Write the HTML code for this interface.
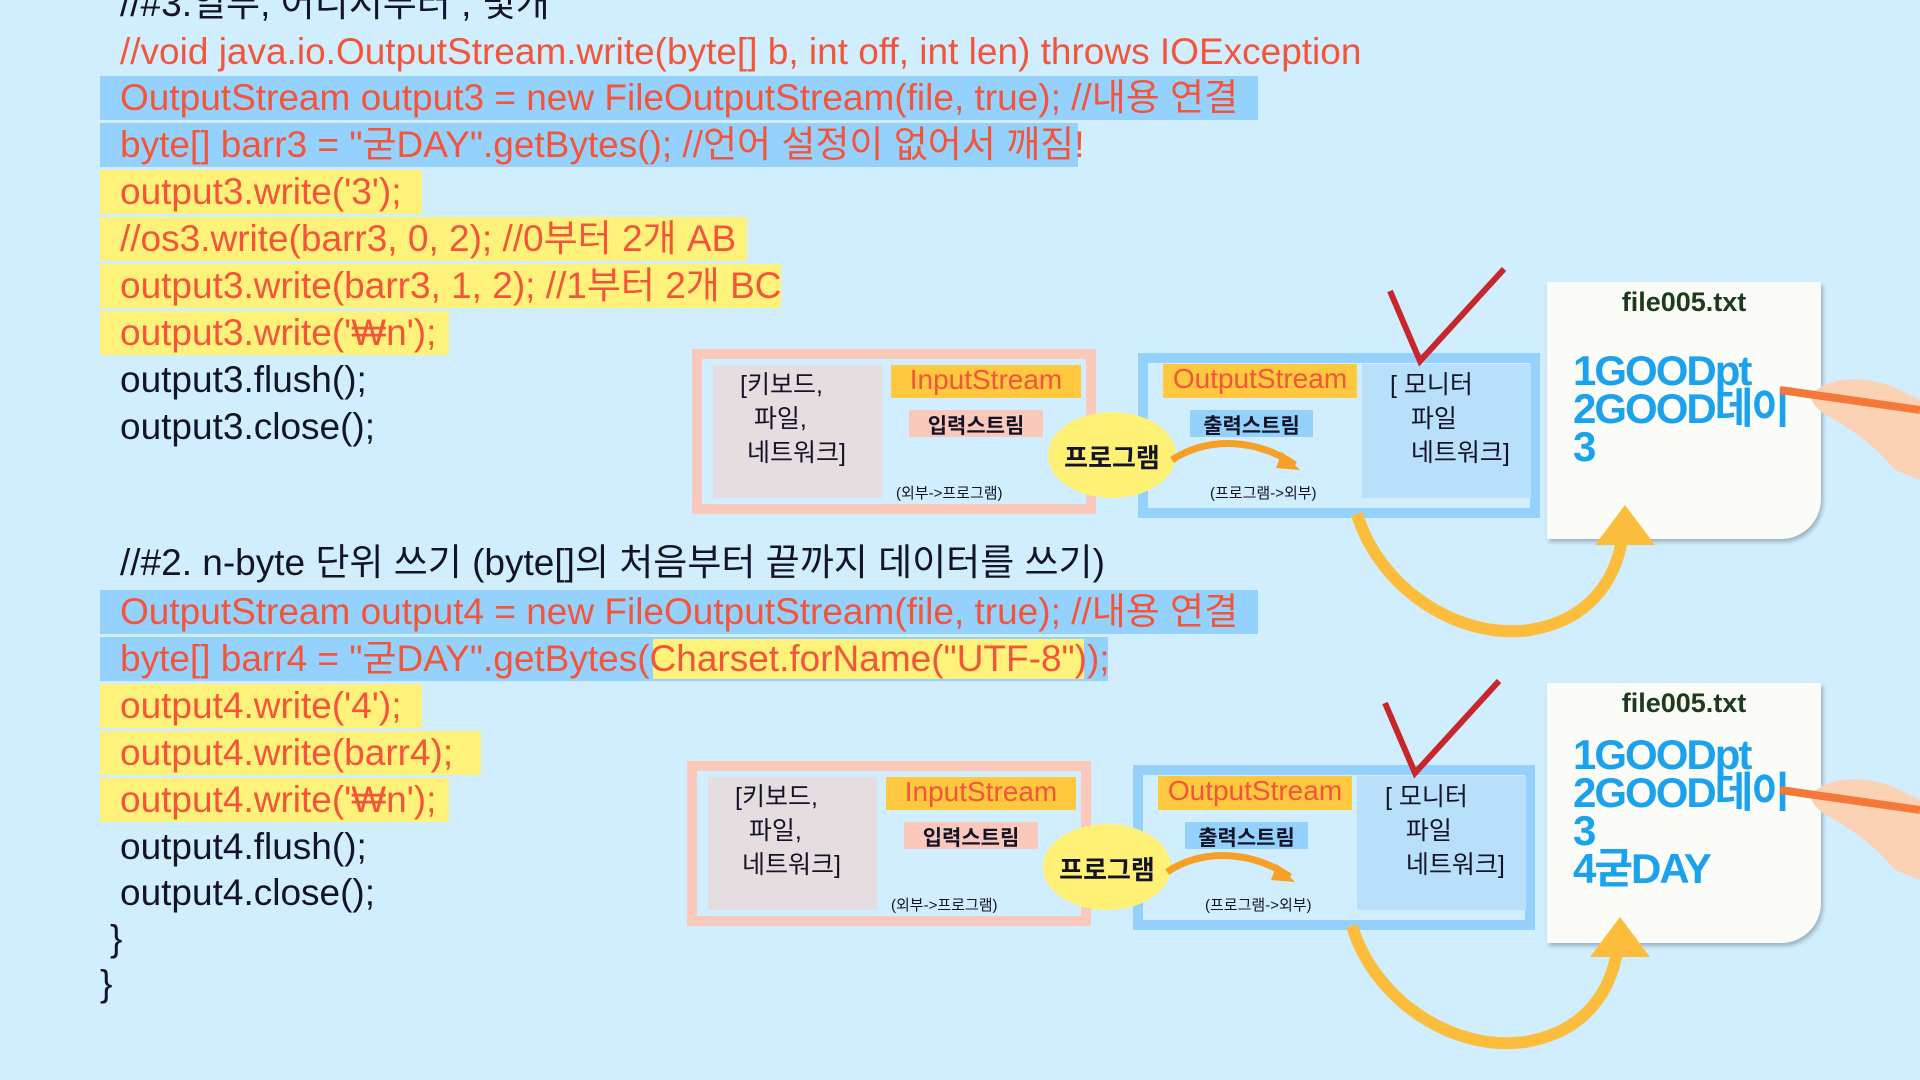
<!DOCTYPE html>
<html><head><meta charset="utf-8">
<style>
*{margin:0;padding:0;box-sizing:border-box}
html,body{width:1920px;height:1080px;overflow:hidden}
body{background:#d0eefe;position:relative;font-family:"Liberation Sans","Noto Sans CJK KR",sans-serif}
.l{position:absolute;left:120px;font-size:37px;line-height:44px;white-space:nowrap;color:#f4553a}
.k{color:#141428}
.hb{position:absolute;background:#94d1fd}
.hy{position:absolute;background:#fff27a}
.a{position:absolute}
.dg{position:absolute;left:0;top:0;width:1920px;height:0}
.t{position:absolute;white-space:nowrap;font-family:"Liberation Sans","Noto Sans CJK KR",sans-serif}
svg.a{z-index:2}
</style></head><body>
<div class="hb" style="left:100px;top:76px;width:1158px;height:44px"></div>
<div class="hb" style="left:100px;top:123px;width:978px;height:44px"></div>
<div class="hy" style="left:100px;top:170px;width:322px;height:44px"></div>
<div class="hy" style="left:100px;top:217px;width:647px;height:44px"></div>
<div class="hy" style="left:100px;top:264px;width:681px;height:44px"></div>
<div class="hy" style="left:100px;top:311px;width:349px;height:44px"></div>
<div class="hb" style="left:100px;top:590px;width:1158px;height:44px"></div>
<div class="hb" style="left:100px;top:637px;width:1008px;height:44px"></div>
<div class="hy" style="left:653px;top:639px;width:431px;height:40px"></div>
<div class="hy" style="left:100px;top:684px;width:322px;height:44px"></div>
<div class="hy" style="left:100px;top:731px;width:381px;height:44px"></div>
<div class="hy" style="left:100px;top:778px;width:349px;height:44px"></div>

<div class="l k" style="top:-18px">//#3.일부, 어디서부터 , 몇개</div>
<div class="l" style="top:30px">//void java.io.OutputStream.write(byte[] b, int off, int len) throws IOException</div>
<div class="l" style="top:76px">OutputStream output3 = new FileOutputStream(file, true); //내용 연결</div>
<div class="l" style="top:123px">byte[] barr3 = "굳DAY".getBytes(); //언어 설정이 없어서 깨짐!</div>
<div class="l" style="top:170px">output3.write('3');</div>
<div class="l" style="top:217px">//os3.write(barr3, 0, 2); //0부터 2개 AB</div>
<div class="l" style="top:264px">output3.write(barr3, 1, 2); //1부터 2개 BC</div>
<div class="l" style="top:311px">output3.write('₩n');</div>
<div class="l k" style="top:358px">output3.flush();</div>
<div class="l k" style="top:405px">output3.close();</div>

<div class="l k" style="top:541px">//#2. n-byte 단위 쓰기 (byte[]의 처음부터 끝까지 데이터를 쓰기)</div>
<div class="l" style="top:590px">OutputStream output4 = new FileOutputStream(file, true); //내용 연결</div>
<div class="l" style="top:637px">byte[] barr4 = "굳DAY".getBytes(Charset.forName("UTF-8"));</div>
<div class="l" style="top:684px">output4.write('4');</div>
<div class="l" style="top:731px">output4.write(barr4);</div>
<div class="l" style="top:778px">output4.write('₩n');</div>
<div class="l k" style="top:825px">output4.flush();</div>
<div class="l k" style="top:871px">output4.close();</div>
<div class="l k" style="top:917px;left:110px">}</div>
<div class="l k" style="top:962px;left:100px">}</div>

<div class="dg">
 <div class="a" style="left:692px;top:349px;width:404px;height:165px;border:10px solid #fbc9bc;background:#d0eefe"></div>
 <div class="a" style="left:713px;top:365px;width:169px;height:133px;background:#e6dde0"></div>
 <div class="t" style="left:740px;top:368px;font-size:25px;line-height:34px;color:#141428">[키보드,<br>&nbsp;&nbsp;파일,<br>&nbsp;네트워크]</div>
 <div class="a" style="left:891px;top:365px;width:190px;height:33px;background:#ffc83f"></div>
 <div class="t" style="left:891px;top:364px;width:190px;text-align:center;font-size:28px;color:#f4553a">InputStream</div>
 <div class="a" style="left:909px;top:410px;width:134px;height:27px;background:#fbc9bc"></div>
 <div class="t" style="left:909px;top:410px;width:134px;text-align:center;font-size:21px;color:#141428;font-weight:bold">입력스트림</div>
 <div class="t" style="left:896px;top:482px;font-size:15px;color:#141428">(외부-&gt;프로그램)</div>
 <div class="a" style="left:1138px;top:353px;width:402px;height:165px;border:10px solid #94d1fd;background:#d0eefe"></div>
 <div class="a" style="left:1362px;top:364px;width:169px;height:134px;background:#b8e0fb"></div>
 <div class="t" style="left:1390px;top:368px;font-size:25px;line-height:34px;color:#141428">[ 모니터<br>&nbsp;&nbsp;&nbsp;파일<br>&nbsp;&nbsp;&nbsp;네트워크]</div>
 <div class="a" style="left:1163px;top:364px;width:194px;height:34px;background:#ffc83f"></div>
 <div class="t" style="left:1163px;top:363px;width:194px;text-align:center;font-size:28px;color:#f4553a">OutputStream</div>
 <div class="a" style="left:1190px;top:410px;width:123px;height:27px;background:#94d1fd"></div>
 <div class="t" style="left:1190px;top:410px;width:123px;text-align:center;font-size:21px;color:#141428;font-weight:bold">출력스트림</div>
 <div class="t" style="left:1210px;top:482px;font-size:15px;color:#141428">(프로그램-&gt;외부)</div>
 <div class="a" style="left:1048px;top:412px;width:128px;height:86px;border-radius:50%;background:#fff176"></div>
 <div class="t" style="left:1048px;top:438px;width:128px;text-align:center;font-size:26px;font-weight:bold;color:#141428">프로그램</div>
 <div class="a" style="left:1547px;top:282px;width:274px;height:257px;background:#fbfbf7;box-shadow:2px 3px 4px rgba(0,0,0,.25);border-bottom-right-radius:40px"></div>
 <div class="t" style="left:1547px;top:287px;width:274px;text-align:center;font-size:27px;font-weight:bold;color:#1c3a1c">file005.txt</div>
 <div class="t" style="left:1573px;top:352px;font-size:42px;line-height:38px;font-weight:bold;color:#1aa3ec;letter-spacing:-2px">1GOODpt<br>2GOOD데이<br>3</div>
 <svg class="a" style="left:0;top:0" width="1920" height="660">
  <path d="M1172 460 C1210 435,1260 440,1295 465" stroke="#f7a025" stroke-width="7" fill="none"/>
  <path d="M1282 452 L1300 470 L1276 468 Z" fill="#f7a025"/>
  <path d="M1390 291 L1420 361 L1504 269" stroke="#c8262b" stroke-width="6" fill="none"/>
  <path d="M1357 514 C1380 590,1460 640,1530 630 C1590 620,1615 580,1622 540" stroke="#fdbd3c" stroke-width="12" fill="none"/>
  <path d="M1595 545 L1625 505 L1655 545 Z" fill="#fdbd3c"/>
  <path d="M1810 395 C1830 375,1870 375,1900 390 L1920 400 L1920 480 L1895 470 C1870 440,1850 430,1835 420 C1820 412,1812 405,1810 395Z" fill="#fbd2b4"/>
  <path d="M1780 390 L1920 410" stroke="#f4783a" stroke-width="8"/>
 </svg>
</div>

<div class="dg" style="transform:translate(-5px,412px)">
 <div class="a" style="left:692px;top:349px;width:404px;height:165px;border:10px solid #fbc9bc;background:#d0eefe"></div>
 <div class="a" style="left:713px;top:365px;width:169px;height:133px;background:#e6dde0"></div>
 <div class="t" style="left:740px;top:368px;font-size:25px;line-height:34px;color:#141428">[키보드,<br>&nbsp;&nbsp;파일,<br>&nbsp;네트워크]</div>
 <div class="a" style="left:891px;top:365px;width:190px;height:33px;background:#ffc83f"></div>
 <div class="t" style="left:891px;top:364px;width:190px;text-align:center;font-size:28px;color:#f4553a">InputStream</div>
 <div class="a" style="left:909px;top:410px;width:134px;height:27px;background:#fbc9bc"></div>
 <div class="t" style="left:909px;top:410px;width:134px;text-align:center;font-size:21px;color:#141428;font-weight:bold">입력스트림</div>
 <div class="t" style="left:896px;top:482px;font-size:15px;color:#141428">(외부-&gt;프로그램)</div>
 <div class="a" style="left:1138px;top:353px;width:402px;height:165px;border:10px solid #94d1fd;background:#d0eefe"></div>
 <div class="a" style="left:1362px;top:364px;width:169px;height:134px;background:#b8e0fb"></div>
 <div class="t" style="left:1390px;top:368px;font-size:25px;line-height:34px;color:#141428">[ 모니터<br>&nbsp;&nbsp;&nbsp;파일<br>&nbsp;&nbsp;&nbsp;네트워크]</div>
 <div class="a" style="left:1163px;top:364px;width:194px;height:34px;background:#ffc83f"></div>
 <div class="t" style="left:1163px;top:363px;width:194px;text-align:center;font-size:28px;color:#f4553a">OutputStream</div>
 <div class="a" style="left:1190px;top:410px;width:123px;height:27px;background:#94d1fd"></div>
 <div class="t" style="left:1190px;top:410px;width:123px;text-align:center;font-size:21px;color:#141428;font-weight:bold">출력스트림</div>
 <div class="t" style="left:1210px;top:482px;font-size:15px;color:#141428">(프로그램-&gt;외부)</div>
 <div class="a" style="left:1048px;top:412px;width:128px;height:86px;border-radius:50%;background:#fff176"></div>
 <div class="t" style="left:1048px;top:438px;width:128px;text-align:center;font-size:26px;font-weight:bold;color:#141428">프로그램</div>
 <div class="a" style="left:1552px;top:271px;width:274px;height:260px;background:#fbfbf7;box-shadow:2px 3px 4px rgba(0,0,0,.25);border-bottom-right-radius:40px"></div>
 <div class="t" style="left:1552px;top:276px;width:274px;text-align:center;font-size:27px;font-weight:bold;color:#1c3a1c">file005.txt</div>
 <div class="t" style="left:1578px;top:324px;font-size:42px;line-height:38px;font-weight:bold;color:#1aa3ec;letter-spacing:-2px">1GOODpt<br>2GOOD데이<br>3<br>4굳DAY</div>
 <svg class="a" style="left:0;top:0" width="1925" height="660">
  <path d="M1172 460 C1210 435,1260 440,1295 465" stroke="#f7a025" stroke-width="7" fill="none"/>
  <path d="M1282 452 L1300 470 L1276 468 Z" fill="#f7a025"/>
  <path d="M1390 291 L1420 361 L1504 269" stroke="#c8262b" stroke-width="6" fill="none"/>
  <path d="M1357 514 C1380 590,1460 640,1530 630 C1590 620,1615 580,1622 540" stroke="#fdbd3c" stroke-width="12" fill="none"/>
  <path d="M1595 545 L1625 505 L1655 545 Z" fill="#fdbd3c"/>
  <path d="M1815 383 C1835 363,1875 363,1905 378 L1925 388 L1925 468 L1900 458 C1875 428,1855 418,1840 408 C1825 400,1817 393,1815 383Z" fill="#fbd2b4"/>
  <path d="M1785 378 L1925 398" stroke="#f4783a" stroke-width="8"/>
 </svg>
</div>
</body></html>
